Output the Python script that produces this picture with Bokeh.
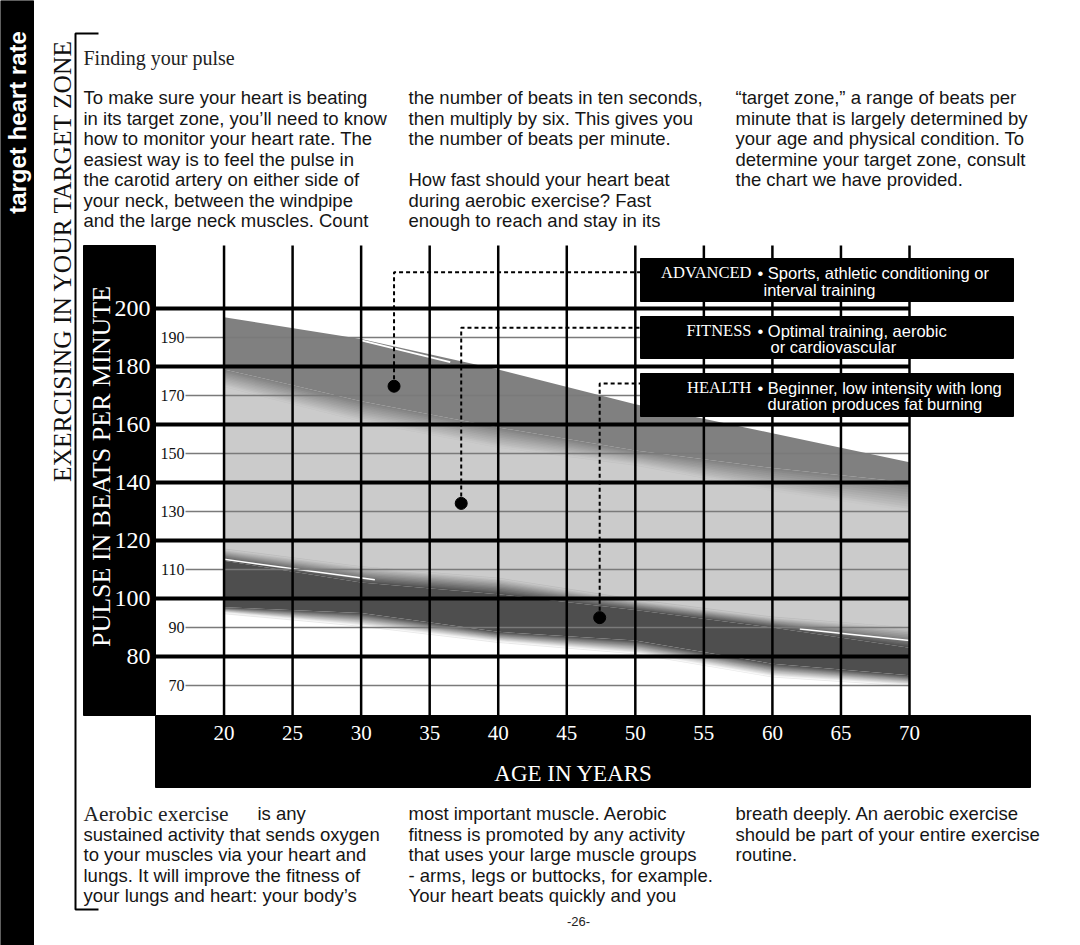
import numpy as np
from bokeh.plotting import figure
from bokeh.models import Range1d
from bokeh.core.properties import value
from bokeh.embed import file_html
from bokeh.resources import INLINE

# ---------------- data ----------------
ages = [20, 30, 40, 50, 60, 70]
advanced_top = [197, 189.5, 179, 167, 157, 147]
advanced_bottom_solid = [179, 168, 159, 151, 145, 140]
advanced_bottom_fade = [173, 161, 152, 146, 137, 130]
health_top_fade = [117, 111, 107, 99.5, 93.5, 90]
health_top_solid = [113, 105.5, 101.5, 96, 90, 83]
health_bottom_solid = [97, 95, 88.5, 85.5, 77.5, 73.5]
health_bottom_fade = [95, 90.5, 85, 81, 73, 70]

adv_streak_age = [30, 36.5]
adv_streak_bpm = [189, 181.5]
health_streak1_age = [20, 31]
health_streak1_bpm = [113.5, 106.5]
health_streak2_age = [62, 70]
health_streak2_bpm = [89.5, 85.5]

age_ticks = [20, 25, 30, 35, 40, 45, 50, 55, 60, 65, 70]
age_tick_labels = ["20", "25", "30", "35", "40", "45", "50", "55", "60", "65", "70"]
bpm_major = [200, 180, 160, 140, 120, 100, 80]
bpm_major_labels = ["200", "180", "160", "140", "120", "100", "80"]
bpm_minor = [190, 170, 150, 130, 110, 90, 70]
bpm_minor_labels = ["190", "170", "150", "130", "110", "90", "70"]

zone_names = ["ADVANCED", "FITNESS", "HEALTH"]
zone_desc1 = ["\u2022 Sports, athletic conditioning or", "\u2022 Optimal training, aerobic",
              "\u2022 Beginner, low intensity with long"]
zone_desc2 = ["interval training", "or cardiovascular", "duration produces fat burning"]
marker_age = [32.4, 37.3, 47.4]
marker_bpm = [173.2, 132.8, 93.4]
leader_bpm = [212.5, 193.4, 174.1]

top_col1 = ["To make sure your heart is beating", "in its target zone, you\u2019ll need to know",
            "how to monitor your heart rate. The", "easiest way is to feel the pulse in",
            "the carotid artery on either side of", "your neck, between the windpipe",
            "and the large neck muscles. Count"]
top_col2 = ["the number of beats in ten seconds,", "then multiply by six. This gives you",
            "the number of beats per minute.", "", "How fast should your heart beat",
            "during aerobic exercise? Fast", "enough to reach and stay in its"]
top_col3 = ["\u201ctarget zone,\u201d a range of beats per", "minute that is largely determined by",
            "your age and physical condition. To", "determine your target zone, consult",
            "the chart we have provided."]
bot_col1 = ["", "sustained activity that sends oxygen", "to your muscles via your heart and",
            "lungs. It will improve the fitness of", "your lungs and heart: your body\u2019s"]
bot_col2 = ["most important muscle. Aerobic", "fitness is promoted by any activity",
            "that uses your large muscle groups", "- arms, legs or buttocks, for example.",
            "Your heart beats quickly and you"]
bot_col3 = ["breath deeply. An aerobic exercise", "should be part of your entire exercise",
            "routine."]

# ---------------- layout (pixels) ----------------
W, H = 1080, 945
FL, FR = 155, 909          # pixel of age 15 and age 70
AGE_L, AGE_R = 15, 70
Y60, PPB = 714, 2.9        # pixel of 60 bpm, pixels per bpm
PLOT_TOP = 245


def age_at(px):
    return AGE_L + (px - FL) * (AGE_R - AGE_L) / (FR - FL)


def bpm_at(py):
    return 60 + (Y60 - py) / PPB


SERIF = value("Liberation Serif")
SANS = value("Liberation Sans")

p = figure(width=W, height=H, x_range=Range1d(0, W), y_range=Range1d(H, 0),
           x_axis_type=None, y_axis_type=None, toolbar_location=None, min_border=0,
           output_backend="svg", outline_line_color=None,
           background_fill_color="white", border_fill_color="white")
p.extra_x_ranges = {"age": Range1d(age_at(0), age_at(W))}
p.extra_y_ranges = {"bpm": Range1d(bpm_at(H), bpm_at(0))}
D = dict(x_range_name="age", y_range_name="bpm")

# ---------------- page decorations ----------------
p.quad(left=[0], right=[33], top=[0], bottom=[H], color="black")
p.text(x=[17], y=[122], text=["target heart rate"], angle=np.pi / 2, text_font=SANS,
       text_font_style="bold", text_font_size="24px", text_color="white",
       text_align="center", text_baseline="middle")
p.line(x=[98, 75, 75, 98], y=[33, 33, 909, 909], line_color="black", line_width=2)
p.text(x=[62], y=[260], text=["EXERCISING IN YOUR TARGET ZONE"], angle=np.pi / 2,
       text_font=SERIF, text_font_size="25.5px", text_color="#111111",
       text_align="center", text_baseline="middle")
p.text(x=[83], y=[57], text=["Finding your pulse"], text_font=SERIF, text_font_size="20px",
       text_color="#222222", text_baseline="alphabetic")

for cx, lines, y0 in [(83, top_col1, 97), (408, top_col2, 97), (735, top_col3, 97),
                      (83, bot_col1, 813), (408, bot_col2, 813), (735, bot_col3, 813)]:
    ys = [y0 + 20.5 * i for i in range(len(lines))]
    p.text(x=[cx] * len(lines), y=ys, text=lines, text_font=SANS, text_font_size="18.5px",
           text_color="#151515", text_baseline="alphabetic")
p.text(x=[83], y=[813], text=["Aerobic exercise"], text_font=SERIF, text_font_size="21.5px",
       text_color="#222222", text_baseline="alphabetic")
p.text(x=[257], y=[813], text=["is any"], text_font=SANS, text_font_size="18.5px",
       text_color="#151515", text_baseline="alphabetic")
p.text(x=[578], y=[921], text=["-26-"], text_font=SANS, text_font_size="13px",
       text_color="#222222", text_align="center", text_baseline="middle")

# chart panels
p.quad(left=[83], right=[FL], top=[PLOT_TOP], bottom=[715], color="black")
p.quad(left=[FL], right=[1030], top=[715], bottom=[787], color="black")

# ---------------- bands ----------------
ADV, FIT, HEA = "#808080", "#cbcbcb", "#4e4e4e"


def hex2rgb(c):
    c = c.lstrip("#")
    return [int(c[i:i + 2], 16) for i in (0, 2, 4)]


def blend(c1, c2, t):
    a, b = hex2rgb(c1), hex2rgb(c2)
    return "#%02x%02x%02x" % tuple(int(round(a[i] + (b[i] - a[i]) * t)) for i in range(3))


def fade(a, b, c1, c2, n=12):
    """Soft edge: strips stepping from colour c1 (at boundary a) to c2 (at boundary b)."""
    a, b = np.array(a, float), np.array(b, float)
    step = (b - a) / n
    for k in range(n):
        s = a + step * k
        e = b if k == n - 1 else a + step * (k + 1) + 0.6 * np.sign(step)
        p.varea(x=ages, y1=s, y2=e, fill_color=blend(c1, c2, (k + 0.5) / n), **D)


p.varea(x=ages, y1=health_top_solid, y2=advanced_bottom_solid, fill_color=FIT, **D)
p.varea(x=ages, y1=advanced_bottom_solid, y2=advanced_top, fill_color=ADV, **D)
fade(advanced_bottom_solid, advanced_bottom_fade, ADV, FIT)
p.varea(x=ages, y1=health_bottom_solid, y2=health_top_solid, fill_color=HEA, **D)
fade(health_top_solid, health_top_fade, HEA, FIT)
fade(health_bottom_solid, health_bottom_fade, HEA, "#ffffff")
p.line(adv_streak_age, adv_streak_bpm, line_color="white", line_width=2, **D)
p.line(health_streak1_age, health_streak1_bpm, line_color="white", line_width=1.5, **D)
p.line(health_streak2_age, health_streak2_bpm, line_color="white", line_width=1.5, **D)

# ---------------- grid ----------------
n_min = len(bpm_minor)
p.segment(x0=[age_at(185)] * n_min, x1=[AGE_R] * n_min, y0=bpm_minor, y1=bpm_minor,
          line_color="#7a7a7a", line_width=1.5, **D)
n_maj = len(bpm_major)
p.segment(x0=[AGE_L] * n_maj, x1=[AGE_R] * n_maj, y0=bpm_major, y1=bpm_major,
          line_color="black", line_width=4, **D)
n_age = len(age_ticks)
p.segment(x0=age_ticks, x1=age_ticks, y0=[bpm_at(715)] * n_age, y1=[bpm_at(PLOT_TOP)] * n_age,
          line_color="black", line_width=2.5, **D)

# tick labels
p.text(x=[150] * n_maj, y=bpm_major, text=bpm_major_labels, text_font=SERIF,
       text_font_size="24px", text_color="white", text_align="right",
       text_baseline="middle", y_range_name="bpm")
p.text(x=[184] * n_min, y=bpm_minor, text=bpm_minor_labels, text_font=SERIF,
       text_font_size="16px", text_color="#111111", text_align="right",
       text_baseline="middle", y_range_name="bpm")
p.text(x=age_ticks, y=[732] * n_age, text=age_tick_labels, text_font=SERIF,
       text_font_size="21px", text_color="white", text_align="center",
       text_baseline="middle", x_range_name="age")
p.text(x=[573], y=[773], text=["AGE IN YEARS"], text_font=SERIF, text_font_size="23px",
       text_color="white", text_align="center", text_baseline="middle")
p.text(x=[101], y=[466], text=["PULSE IN BEATS PER MINUTE"], angle=np.pi / 2,
       text_font=SERIF, text_font_size="26px", text_color="white",
       text_align="center", text_baseline="middle")

# ---------------- callouts ----------------
box_left = 640
xs = [[a, a, age_at(box_left)] for a in marker_age]
ys = [[b, e, e] for b, e in zip(marker_bpm, leader_bpm)]
p.multi_line(xs=xs, ys=ys, line_color="black", line_width=2, line_dash="4 3", **D)
p.scatter(x=marker_age, y=marker_bpm, size=12, color="black", **D)

box_tops = [258, 316, 373]
box_bottoms = [301, 358, 416]
p.quad(left=[box_left] * 3, right=[1013] * 3, top=box_tops, bottom=box_bottoms, color="black")
line1_y = [272, 330, 387]
line2_y = [289, 346, 403]
line2_x = [763, 770, 767]
p.text(x=[751] * 3, y=line1_y, text=zone_names, text_font=SERIF, text_font_size="16.5px",
       text_color="white", text_align="right", text_baseline="middle")
p.text(x=[757] * 3, y=line1_y, text=zone_desc1, text_font=SANS, text_font_size="16.5px",
       text_color="white", text_align="left", text_baseline="middle")
p.text(x=line2_x, y=line2_y, text=zone_desc2, text_font=SANS, text_font_size="16.5px",
       text_color="white", text_align="left", text_baseline="middle")

open("out.html", "w").write(file_html(p, INLINE))
